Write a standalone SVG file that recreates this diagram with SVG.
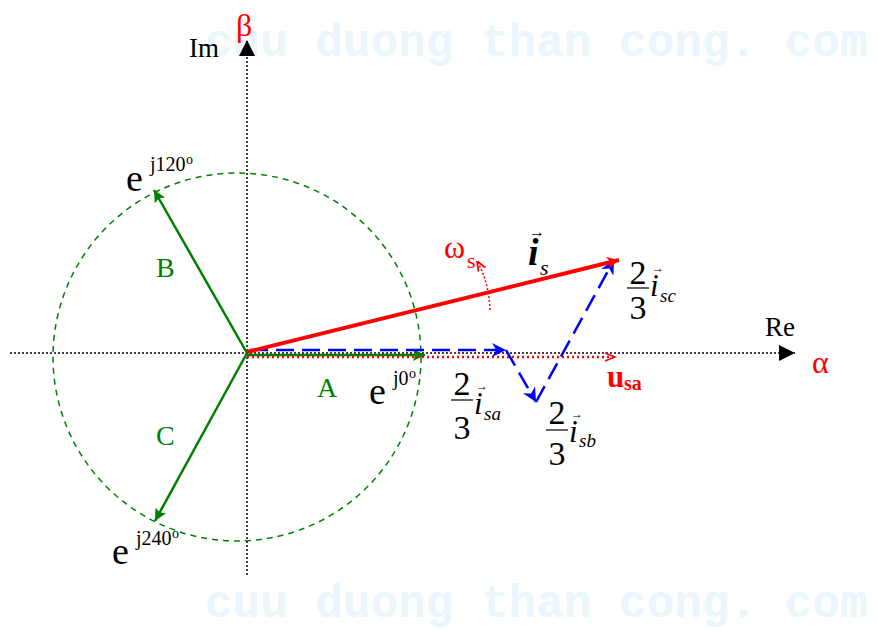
<svg xmlns="http://www.w3.org/2000/svg" width="878" height="631" viewBox="0 0 878 631">
<defs>
<style>
text{font-family:"Liberation Serif","Times New Roman",serif;}
text.wm{font-family:"Liberation Mono","DejaVu Sans Mono",monospace;font-size:46px;font-weight:bold;fill:#eaf5fc;}
.g{fill:#008000;}
.k{fill:#000;}
.r{fill:#ff0000;}
.it{font-style:italic;}
</style>
<marker id="ak" viewBox="0 0 10 10" refX="10" refY="5" markerWidth="16" markerHeight="16" markerUnits="userSpaceOnUse" orient="auto"><path d="M0,0 L10,5 L0,10 z" fill="#000"/></marker>
<marker id="ag" viewBox="0 0 10 10" refX="10" refY="5" markerWidth="16" markerHeight="12" markerUnits="userSpaceOnUse" orient="auto"><path d="M0,0 L10,5 L0,10 L2,5 z" fill="#008000"/></marker>
<marker id="ab" viewBox="0 0 10 10" refX="10" refY="5" markerWidth="16" markerHeight="14" markerUnits="userSpaceOnUse" orient="auto"><path d="M0,0 L10,5 L0,10 L3,5 z" fill="#0000ff"/></marker>
<marker id="ar" viewBox="0 0 10 10" refX="10" refY="5" markerWidth="22" markerHeight="12" markerUnits="userSpaceOnUse" orient="auto"><path d="M0,0 L10,5 L0,10 L3,5 z" fill="#ff0000"/></marker>
<marker id="aro" viewBox="0 0 10 10" refX="10" refY="5" markerWidth="16" markerHeight="10" markerUnits="userSpaceOnUse" orient="auto"><path d="M0,1 L10,5 L0,9" fill="none" stroke="#ff0000" stroke-width="1.5"/></marker>
<marker id="aro2" viewBox="0 0 10 10" refX="10" refY="5" markerWidth="10" markerHeight="10" markerUnits="userSpaceOnUse" orient="auto"><path d="M0,1 L10,5 L0,9" fill="none" stroke="#ff0000" stroke-width="1.8"/></marker>
</defs>
<rect width="878" height="631" fill="#fff"/>
<text class="wm" x="205" y="56">cuu duong than cong. com</text>
<text class="wm" x="205" y="617">cuu duong than cong. com</text>

<g id="axes">
<line x1="10" y1="353" x2="795" y2="353" stroke="#000" stroke-width="1.5" stroke-dasharray="2,2" marker-end="url(#ak)"/>
<line x1="247" y1="575" x2="247" y2="40" stroke="#000" stroke-width="1.5" stroke-dasharray="2,2" marker-end="url(#ak)"/>
</g>
<g id="circle">
<circle cx="237" cy="357" r="184" fill="none" stroke="#008000" stroke-width="1.5" stroke-dasharray="6,5"/>
</g>
<g id="connectors">
<line id="vecA" x1="247" y1="355" x2="425" y2="355" stroke="#008000" stroke-width="2.5" marker-end="url(#ag)"/>
<line id="vecB" x1="247" y1="353" x2="154" y2="190" stroke="#008000" stroke-width="2.5" marker-end="url(#ag)"/>
<line id="vecC" x1="247" y1="353" x2="155" y2="521" stroke="#008000" stroke-width="2.5" marker-end="url(#ag)"/>
<line id="usa" x1="247" y1="357" x2="615" y2="357" stroke="#ff0000" stroke-width="2.5" stroke-dasharray="2,3" marker-end="url(#aro)"/>
<line id="isa" x1="250" y1="350" x2="506" y2="350" stroke="#0000ff" stroke-width="2.5" stroke-dasharray="18,8" marker-end="url(#ab)"/>
<line id="isb" x1="506" y1="350" x2="536" y2="402" stroke="#0000ff" stroke-width="2.5" stroke-dasharray="18,8" marker-end="url(#ab)"/>
<line id="isc" x1="536" y1="402" x2="614" y2="260" stroke="#0000ff" stroke-width="2.5" stroke-dasharray="18,8" marker-end="url(#ab)"/>
<line id="is" x1="247" y1="352" x2="619" y2="260" stroke="#ff0000" stroke-width="4" marker-end="url(#ar)"/>
<path id="omega" d="M490,310 Q489,282 477,261" fill="none" stroke="#ff0000" stroke-width="1.5" stroke-dasharray="2,2" marker-end="url(#aro2)"/>
</g>

<g id="labels">
<text x="189" y="57" font-size="27" class="k">Im</text>
<text x="236" y="36" font-size="32" class="r">β</text>
<text x="765" y="336" font-size="27" class="k">Re</text>
<text x="812" y="373" font-size="32" class="r">α</text>
<text x="156" y="277" font-size="28" class="g">B</text>
<text x="156" y="445" font-size="28" class="g">C</text>
<text x="317" y="397" font-size="28" class="g">A</text>
<text x="126" y="191" font-size="38" class="k">e</text>
<text x="150" y="171" font-size="20" class="k">j120</text>
<text x="186" y="164" font-size="14" class="k">o</text>
<text x="112" y="564" font-size="38" class="k">e</text>
<text x="136" y="545" font-size="20" class="k">j240</text>
<text x="172" y="538" font-size="14" class="k">o</text>
<text x="369" y="404" font-size="38" class="k">e</text>
<text x="393" y="385" font-size="20" class="k">j0</text>
<text x="409" y="378" font-size="14" class="k">o</text>
<text x="444" y="258" font-size="32" class="r">ω</text>
<text x="467" y="268" font-size="22" class="r">s</text>
<text x="528" y="265" font-size="38" font-weight="bold" class="k it">i</text>
<text x="529" y="237" font-size="16" class="k">→</text>
<text x="540" y="275" font-size="22" class="k it">s</text>
<text x="607" y="387" font-size="31" font-weight="bold" class="r">u</text>
<text x="624" y="390" font-size="20" font-weight="bold" class="r">sa</text>
<g id="f_sc">
<text x="638" y="284" font-size="34" class="k" text-anchor="middle">2</text>
<line x1="627" y1="288" x2="649" y2="288" stroke="#000" stroke-width="1.2"/>
<text x="638" y="319" font-size="34" class="k" text-anchor="middle">3</text>
<text x="650" y="296" font-size="31" class="k it">i</text>
<text x="652" y="272" font-size="12" class="k">→</text>
<text x="660" y="302" font-size="19" class="k it">sc</text>
</g>
<g id="f_sa">
<text x="462" y="395" font-size="34" class="k" text-anchor="middle">2</text>
<line x1="451" y1="400" x2="473" y2="400" stroke="#000" stroke-width="1.2"/>
<text x="462" y="439" font-size="34" class="k" text-anchor="middle">3</text>
<text x="474" y="414" font-size="31" class="k it">i</text>
<text x="476" y="390" font-size="12" class="k">→</text>
<text x="484" y="420" font-size="19" class="k it">sa</text>
</g>
<g id="f_sb">
<text x="557" y="424" font-size="34" class="k" text-anchor="middle">2</text>
<line x1="546" y1="430" x2="568" y2="430" stroke="#000" stroke-width="1.2"/>
<text x="557" y="465" font-size="34" class="k" text-anchor="middle">3</text>
<text x="569" y="442" font-size="31" class="k it">i</text>
<text x="571" y="418" font-size="12" class="k">→</text>
<text x="579" y="447" font-size="19" class="k it">sb</text>
</g>
</g>
</svg>
